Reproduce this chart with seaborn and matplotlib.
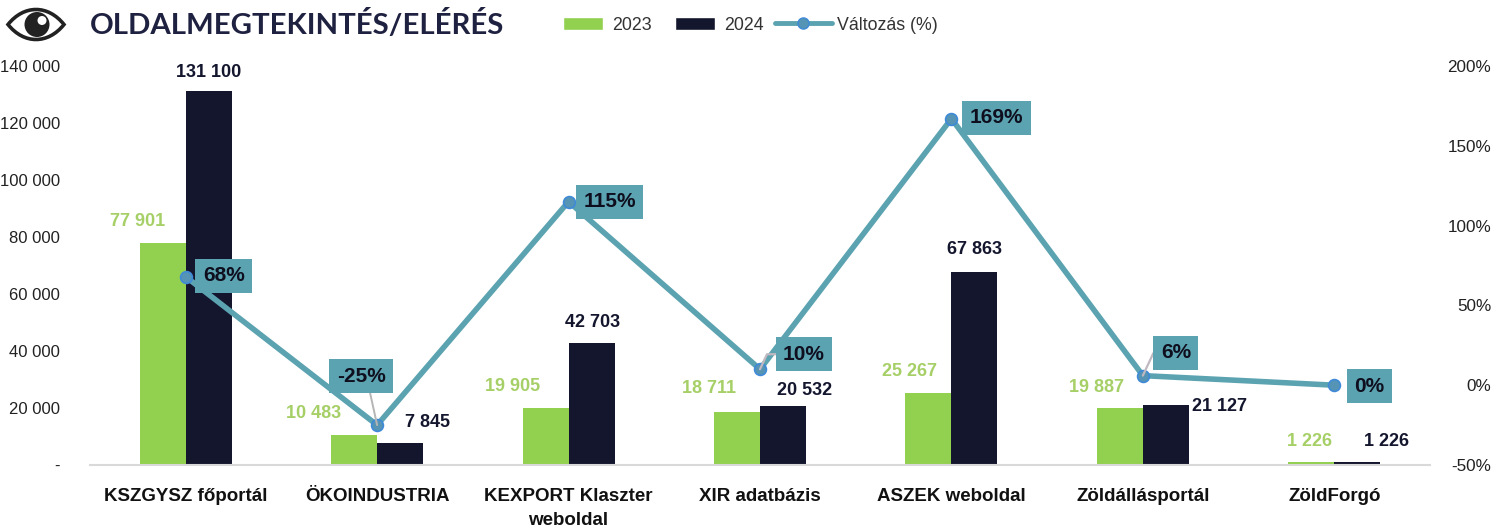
import matplotlib
matplotlib.use("Agg")
import matplotlib.pyplot as plt
from matplotlib.patches import PathPatch, Circle, Rectangle, Patch
from matplotlib.path import Path
from matplotlib.lines import Line2D
from matplotlib.legend_handler import HandlerPatch
import seaborn as sns
import pandas as pd

categories = ["KSZGYSZ főportál", "ÖKOINDUSTRIA", "KEXPORT Klaszter\nweboldal", "XIR adatbázis",
              "ASZEK weboldal", "Zöldállásportál", "ZöldForgó"]
values_2023 = [77901, 10483, 19905, 18711, 25267, 19887, 1226]
values_2024 = [131100, 7845, 42703, 20532, 67863, 21127, 1226]
change_pct = [68, -25, 115, 10, 167, 6, 0]
change_labels = ["68%", "-25%", "115%", "10%", "169%", "6%", "0%"]
left_ticks = [0, 20000, 40000, 60000, 80000, 100000, 120000, 140000]
right_ticks = [-50, 0, 50, 100, 150, 200]

GREEN, NAVY, TEAL = "#92D050", "#14162E", "#5BA3B0"
GREEN_TXT = "#A6D067"
W, H = 1505, 531
sns.set_theme(style="white")
plt.rcParams["font.family"] = ["Liberation Sans", "DejaVu Sans"]

fig = plt.figure(figsize=(W / 100, H / 100), dpi=100)
ax = fig.add_axes([90 / W, 1 - 465 / H, 1340 / W, 399 / H])

df = pd.DataFrame({"cat": categories * 2,
                   "year": ["2023"] * 7 + ["2024"] * 7,
                   "val": values_2023 + values_2024})
sns.barplot(data=df, x="cat", y="val", hue="year", palette=[GREEN, NAVY], width=0.48,
            gap=0, saturation=1, dodge=True, legend=False, linewidth=0, ax=ax)
ax.set_xlim(-0.5, 6.5)
ax.set_ylim(0, 140000)
ax.set_xlabel("")
ax.set_ylabel("")
ax.set_yticks(left_ticks)
ax.set_yticklabels(["-" if v == 0 else f"{v:,}".replace(",", " ") for v in left_ticks],
                   fontsize=12, color="#222222", ha="right")
ax.tick_params(axis="y", pad=21.6, length=0)
ax.tick_params(axis="x", pad=16.5, length=0)
ax.set_xticks(range(7))
ax.set_xticklabels(categories, fontsize=13.5, fontweight="bold", color="#111111", linespacing=1.55)
for s in ["top", "left", "right"]:
    ax.spines[s].set_visible(False)
ax.spines["bottom"].set_color("#D9D9D9")
ax.spines["bottom"].set_linewidth(1.5)

# bar value labels: pixel offsets from the top centre of each bar
bw = 0.12
off_23 = [(-25, 21), (-41, 22), (-33, 22), (-28, 23), (-19, 21), (-23, 21), (-2, 20)]
off_24 = [(0, 19), (27, 20), (1, 21), (22, 16), (0, 22), (54, -2), (29, 20)]
px = 72 / 100
fmt = lambda v: f"{v:,}".replace(",", " ")
for i, (a, b) in enumerate(zip(values_2023, values_2024)):
    ax.annotate(fmt(a), (i - bw, a), xytext=(off_23[i][0] * px, off_23[i][1] * px),
                textcoords="offset points", ha="center", va="center",
                fontsize=13, fontweight="bold", color=GREEN_TXT)
    ax.annotate(fmt(b), (i + bw, b), xytext=(off_24[i][0] * px, off_24[i][1] * px),
                textcoords="offset points", ha="center", va="center",
                fontsize=13, fontweight="bold", color="#14162E")

ax2 = ax.twinx()
ax2.set_position(ax.get_position())
sns.lineplot(x=list(range(7)), y=change_pct, color=TEAL, linewidth=4, ax=ax2, legend=False,
             marker="o", markersize=8.5, markerfacecolor="#5594B4",
             markeredgecolor="#3F8AD8", markeredgewidth=1.2, zorder=3)
ax2.set_ylim(-50, 200)
ax2.set_xlim(-0.5, 6.5)
ax2.set_yticks(right_ticks)
ax2.set_yticklabels([f"{v}%" for v in right_ticks], fontsize=12.3, color="#222222", ha="right")
ax2.tick_params(axis="y", pad=44, length=0)
ax2.set_ylabel("")
ax2.grid(False)
for s in ax2.spines.values():
    s.set_visible(False)

# percent labels with teal boxes (pixel offsets from the point)
off_pct = [(38, 1), (-16, 49), (41, 0), (44, 15), (45, 1), (33, 23), (35, -1)]
for i, (p, t) in enumerate(zip(change_pct, change_labels)):
    ap = None
    if i == 1:
        ap = dict(arrowstyle="-", color="#B5B5B5", lw=1.4, shrinkA=0, shrinkB=0, relpos=(0.65, 0))
    elif i in (3, 5):
        ap = dict(arrowstyle="-", color="#C0B8C0", lw=1.6, shrinkA=0, shrinkB=0, relpos=(0, 0.5),
                  connectionstyle="angle,angleA=0,angleB=65,rad=0")
    ax2.annotate(t, (i, p), xytext=(off_pct[i][0] * px, off_pct[i][1] * px),
                 textcoords="offset points", ha="center", va="center",
                 fontsize=15, fontweight="bold", color="#0E0E1E",
                 bbox=dict(boxstyle="square,pad=0.36", fc=TEAL, ec="none"),
                 arrowprops=ap, zorder=5)

# title and eye icon
fig.text(90 / W, 1 - 25 / H, "OLDALMEGTEKINTÉS/ELÉRÉS", fontsize=21.2, fontweight="bold",
         family="Lato", color="#1F2140", va="center", ha="left")
overlay = fig.add_axes([0, 0, 1, 1], facecolor="none")
overlay.set_xlim(0, W)
overlay.set_ylim(H, 0)
overlay.axis("off")
cx, cy = 36, 24.5
eye = Path([(cx - 28, cy), (cx - 12, cy - 20), (cx + 12, cy - 20), (cx + 28, cy),
            (cx + 12, cy + 20), (cx - 12, cy + 20), (cx - 28, cy), (cx - 28, cy)],
           [Path.MOVETO, Path.CURVE4, Path.CURVE4, Path.CURVE4, Path.CURVE4, Path.CURVE4, Path.CURVE4,
            Path.CLOSEPOLY])
overlay.add_patch(PathPatch(eye, fc="white", ec="#222222", lw=2.6, joinstyle="miter"))
overlay.add_patch(Circle((cx + 1, cy), 12.5, fc="#222222", ec="none"))
overlay.add_patch(Circle((cx + 6, cy - 4), 4.5, fc="white", ec="none"))


# legend: shorter patch keys than the line key
def short_patch(legend, orig_handle, xdescent, ydescent, width, height, fontsize):
    w = width * 40 / 57
    return Rectangle((width - w - 3 - xdescent, -ydescent), w, height)


handles = [Patch(fc=GREEN, label="2023"), Patch(fc=NAVY, label="2024"),
           Line2D([], [], color=TEAL, lw=3.5, marker="o", ms=8, mfc="#5594B4", mec="#3F8AD8",
                  label="Változás (%)")]
fig.legend(handles=handles, ncol=3, loc="center left", bbox_to_anchor=(550 / W, 1 - 25 / H),
           frameon=False, fontsize=12.8, handlelength=3.2, handleheight=0.7, columnspacing=0.62,
           handletextpad=0.28, labelcolor="#333333", borderpad=0, borderaxespad=0,
           handler_map={Patch: HandlerPatch(patch_func=short_patch)})
fig.savefig("out.png", dpi=100)
